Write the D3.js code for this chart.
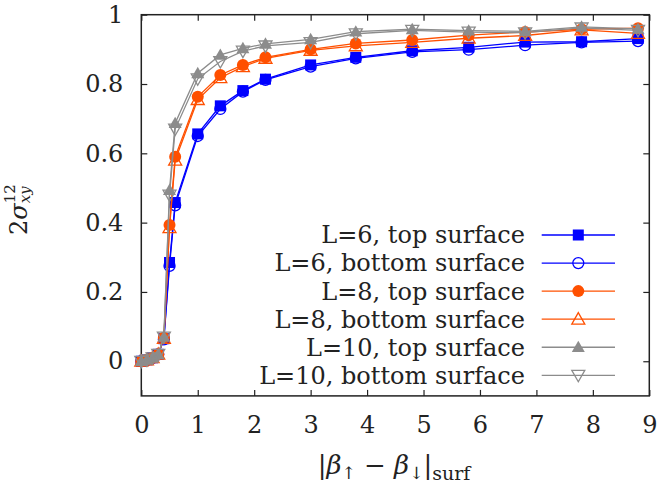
<!DOCTYPE html>
<html><head><meta charset="utf-8">
<script src="https://cdn.jsdelivr.net/npm/d3@7"></script>
<style>html,body{margin:0;padding:0;background:#fff;}svg{display:block;}</style>
</head><body>
<svg id="c" width="660" height="489"></svg>
<script>
const xs = [0, 0.1, 0.2, 0.3, 0.4, 0.5, 0.6, 1.0, 1.4, 1.8, 2.2, 3.0, 3.8, 4.8, 5.8, 6.8, 7.8, 8.8];
const L6top    = [0, 0.004, 0.01, 0.02, 0.065, 0.285, 0.458, 0.656, 0.737, 0.781, 0.814, 0.855, 0.877, 0.896, 0.906, 0.921, 0.922, 0.931];
const L6bottom = [0, 0.004, 0.01, 0.02, 0.063, 0.275, 0.450, 0.650, 0.728, 0.778, 0.812, 0.850, 0.874, 0.893, 0.899, 0.912, 0.920, 0.924];
const L8top    = [0, 0.004, 0.01, 0.02, 0.068, 0.393, 0.590, 0.763, 0.826, 0.855, 0.877, 0.900, 0.917, 0.927, 0.941, 0.950, 0.958, 0.961];
const L8bottom = [0, 0.004, 0.01, 0.02, 0.066, 0.385, 0.580, 0.755, 0.818, 0.850, 0.874, 0.897, 0.910, 0.920, 0.932, 0.940, 0.956, 0.946];
const L10top   = [0, 0.004, 0.01, 0.02, 0.070, 0.494, 0.687, 0.831, 0.884, 0.903, 0.916, 0.929, 0.951, 0.958, 0.954, 0.952, 0.965, 0.959];
const L10bottom= [0, 0.004, 0.01, 0.02, 0.070, 0.480, 0.670, 0.815, 0.865, 0.895, 0.910, 0.920, 0.945, 0.955, 0.950, 0.948, 0.962, 0.955];
const seriesNames = ["L=6, top surface","L=6, bottom surface","L=8, top surface","L=8, bottom surface","L=10, top surface","L=10, bottom surface"];
const xTicks = [0,1,2,3,4,5,6,7,8,9];
const yTicks = [0,0.2,0.4,0.6,0.8,1];

const BLUE="#0000ff", ORANGE="#ff5000", GRAY="#8c8c8c";
const series = [
  {name:seriesNames[0], vals:L6top, color:BLUE, marker:"square"},
  {name:seriesNames[1], vals:L6bottom, color:BLUE, marker:"circleOpen"},
  {name:seriesNames[2], vals:L8top, color:ORANGE, marker:"circle"},
  {name:seriesNames[3], vals:L8bottom, color:ORANGE, marker:"triUpOpen"},
  {name:seriesNames[4], vals:L10top, color:GRAY, marker:"triUp"},
  {name:seriesNames[5], vals:L10bottom, color:GRAY, marker:"triDownOpen"},
];

const FONT = "'DejaVu Serif', serif";
const FS = 24;
const svg = d3.select("#c");
const m = {l:141.3, r:649.3, t:14.7, b:395.9};
const x = d3.scaleLinear().domain([0,9]).range([m.l, m.r]);
const y = d3.scaleLinear().domain([-0.1,1]).range([m.b, m.t]);

const axisColor = "#222";
const TL = 6;
function styleAxis(g){ g.select(".domain").remove(); g.selectAll("line").attr("stroke",axisColor).attr("stroke-width",1.2);
  g.selectAll("text").attr("font-family",FONT).attr("font-size",FS).attr("fill","#222"); }
svg.append("g").attr("transform",`translate(0,${m.b})`)
  .call(d3.axisBottom(x).tickValues(xTicks).tickSize(-TL).tickPadding(20).tickFormat(d3.format("d")))
  .call(styleAxis);
svg.append("g").attr("transform",`translate(0,${m.t})`)
  .call(d3.axisTop(x).tickValues(xTicks).tickSize(-TL).tickFormat(""))
  .call(styleAxis);
svg.append("g").attr("transform",`translate(${m.l},0)`)
  .call(d3.axisLeft(y).tickValues(yTicks).tickSize(-TL).tickPadding(18).tickFormat(d=> d===0?"0":(d===1?"1":d3.format(".1f")(d))))
  .call(styleAxis);
svg.append("g").attr("transform",`translate(${m.r},0)`)
  .call(d3.axisRight(y).tickValues(yTicks).tickSize(-TL).tickFormat(""))
  .call(styleAxis);
svg.append("rect").attr("x",m.l).attr("y",m.t).attr("width",m.r-m.l).attr("height",m.b-m.t)
  .attr("fill","none").attr("stroke",axisColor).attr("stroke-width",1.5);

function drawMarker(g, type, cx, cy, color){
  const s = 5.5;
  if(type==="square") g.append("rect").attr("x",cx-s).attr("y",cy-s).attr("width",2*s).attr("height",2*s).attr("fill",color);
  else if(type==="circle") g.append("circle").attr("cx",cx).attr("cy",cy).attr("r",6).attr("fill",color);
  else if(type==="circleOpen") g.append("circle").attr("cx",cx).attr("cy",cy).attr("r",5.5).attr("fill","none").attr("stroke",color).attr("stroke-width",1.3);
  else {
    const h=6.5, w=6.5;
    const up = type.startsWith("triUp");
    const pts = up ? [[cx,cy-h],[cx-w,cy+h*0.75],[cx+w,cy+h*0.75]] : [[cx,cy+h],[cx-w,cy-h*0.75],[cx+w,cy-h*0.75]];
    const p = g.append("path").attr("d", d3.line()(pts)+"Z");
    if(type.endsWith("Open")) p.attr("fill","none").attr("stroke",color).attr("stroke-width",1.3);
    else p.attr("fill",color);
  }
}

const line = d3.line().x(d=>x(d[0])).y(d=>y(d[1]));
const plot = svg.append("g");
series.forEach(s=>{
  const pts = xs.map((xv,i)=>[xv, s.vals[i]]);
  const g = plot.append("g");
  g.append("path").attr("d",line(pts)).attr("fill","none").attr("stroke",s.color).attr("stroke-width",1.3);
  pts.forEach(p=>drawMarker(g, s.marker, x(p[0]), y(p[1]), s.color));
});

const legRows = d3.scaleLinear().domain([0,5]).range([235,375.3]);
const leg = svg.append("g");
series.forEach((s,i)=>{
  const ry = legRows(i);
  leg.append("text").attr("x",525).attr("y",ry).attr("dy","0.35em").attr("text-anchor","end")
    .attr("font-family",FONT).attr("font-size",FS).attr("fill","#222").text(s.name);
  leg.append("line").attr("x1",541.7).attr("x2",615).attr("y1",ry).attr("y2",ry).attr("stroke",s.color).attr("stroke-width",1.3);
  drawMarker(leg, s.marker, 578.3, ry, s.color);
});

const xl = svg.append("text").attr("x",394).attr("y",474).attr("text-anchor","middle")
  .attr("font-family",FONT).attr("font-size",26).attr("fill","#222");
xl.append("tspan").text("|");
xl.append("tspan").attr("font-style","italic").text("β");
xl.append("tspan").attr("font-size",17).attr("dy",5).text("↑");
xl.append("tspan").attr("dy",-5).text(" − ");
xl.append("tspan").attr("font-style","italic").text("β");
xl.append("tspan").attr("font-size",17).attr("dy",5).text("↓");
xl.append("tspan").attr("dy",-5).text("|");
xl.append("tspan").attr("font-size",19).attr("dy",6).text("surf");

const yl = svg.append("text").attr("transform","translate(27,235) rotate(-90)").attr("text-anchor","start")
  .attr("font-family",FONT).attr("font-size",24).attr("fill","#222");
yl.append("tspan").text("2");
yl.append("tspan").attr("font-style","italic").text("σ");
yl.append("tspan").attr("font-size",15).attr("dy",-12).text("12");
yl.append("tspan").attr("font-size",15).attr("font-style","italic").attr("dx",-19).attr("dy",15).text("xy");
</script>
</body></html>
